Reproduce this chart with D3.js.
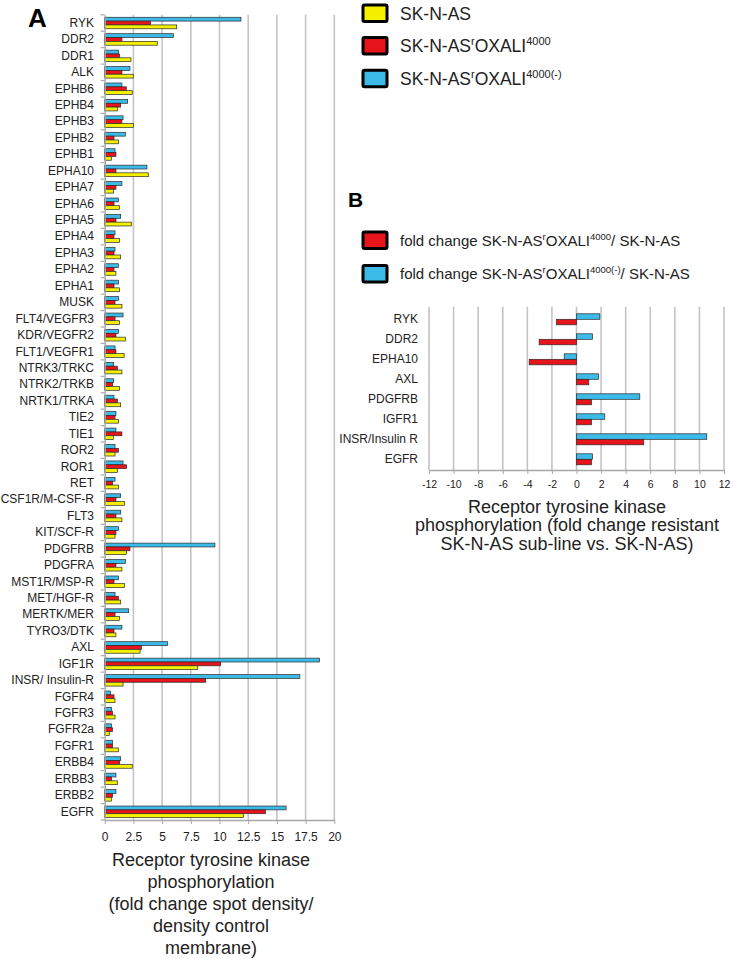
<!DOCTYPE html>
<html><head><meta charset="utf-8">
<script src="https://cdn.jsdelivr.net/npm/d3@7"></script>
<style>body{margin:0;background:#fff}svg{display:block;font-family:"Liberation Sans",Arial,sans-serif}</style>
</head><body><svg id="c" width="733" height="959"></svg>
<script>
// ---------- DATA ----------
const kinasesA = ["RYK","DDR2","DDR1","ALK","EPHB6","EPHB4","EPHB3","EPHB2","EPHB1","EPHA10","EPHA7","EPHA6","EPHA5","EPHA4","EPHA3","EPHA2","EPHA1","MUSK","FLT4/VEGFR3","KDR/VEGFR2","FLT1/VEGFR1","NTRK3/TRKC","NTRK2/TRKB","NRTK1/TRKA","TIE2","TIE1","ROR2","ROR1","RET","CSF1R/M-CSF-R","FLT3","KIT/SCF-R","PDGFRB","PDGFRA","MST1R/MSP-R","MET/HGF-R","MERTK/MER","TYRO3/DTK","AXL","IGF1R","INSR/ Insulin-R","FGFR4","FGFR3","FGFR2a","FGFR1","ERBB4","ERBB3","ERBB2","EGFR"];
const skNAS = [6.27,4.58,2.29,2.49,2.4,1.1,2.49,1.19,0.58,3.8,0.78,1.3,2.32,1.3,1.39,0.98,1.3,1.5,1.3,1.8,1.69,1.5,1.3,1.39,1.19,0.75,0.9,1.1,1.19,1.72,1.5,0.9,1.91,1.5,1.72,1.39,1.3,0.98,3.08,8.1,1.6,0.9,0.9,0.4,1.19,2.4,1.1,0.58,12.1];
const oxali4000 = [4.0,1.5,1.3,1.5,1.88,1.39,1.5,0.81,0.98,0.98,0.98,0.81,0.98,0.81,0.81,0.81,0.81,0.9,0.9,0.98,0.98,1.1,0.69,1.1,0.9,1.5,1.19,1.91,0.69,0.98,0.98,0.98,2.2,0.98,0.81,1.19,0.9,0.81,3.19,10.1,8.8,0.81,0.69,0.69,0.69,1.3,0.6,0.69,14.0];
const oxali4000minus = [11.87,5.98,1.19,2.2,1.5,2.0,1.6,1.8,0.9,3.68,1.5,1.19,1.39,0.9,0.9,1.19,1.19,1.19,1.6,1.19,0.9,0.78,0.78,0.81,0.98,0.98,0.9,1.6,0.9,1.39,1.39,1.19,9.6,1.8,1.19,0.9,2.09,1.5,5.49,18.7,17.0,0.49,0.6,0.58,0.69,1.39,0.98,0.98,15.8];
const ticksA = [0,2.5,5,7.5,10,12.5,15,17.5,20];

const kinasesB = ["RYK","DDR2","EPHA10","AXL","PDGFRB","IGFR1","INSR/Insulin R","EGFR"];
const foldOxali = [-1.63,-3.04,-3.85,1.0,1.22,1.22,5.47,1.22];
const foldOxaliMinus = [1.9,1.3,-1.0,1.79,5.15,2.3,10.6,1.3];
const ticksB = [-12,-10,-8,-6,-4,-2,0,2,4,6,8,10,12];

const COL = {yellow:"#f4f000", red:"#e8141b", cyan:"#3cbbe9"};
const GRID = "#c4c4c4", TXT = "#222";

const svg = d3.select("#c");

// ---------- PANEL A ----------
const xA = d3.scaleLinear().domain([0,20]).range([104.7,334.3]);
const yA = d3.scaleBand().domain(kinasesA).range([14.8,820]).paddingInner(0.3).paddingOuter(0.15);
const seriesA = [
  {key:"cyan", vals:oxali4000minus},
  {key:"red", vals:oxali4000},
  {key:"yellow", vals:skNAS}
];
const y1A = d3.scaleBand().domain(seriesA.map(s=>s.key)).range([0,yA.bandwidth()]);
const gA = svg.append("g");
gA.selectAll("line.grid").data(ticksA.slice(1)).join("line")
  .attr("x1",d=>xA(d)).attr("x2",d=>xA(d)).attr("y1",14.8).attr("y2",820)
  .attr("stroke",GRID).attr("stroke-width",1.6);

seriesA.forEach(s=>{
  gA.append("g").selectAll("rect").data(kinasesA).join("rect")
    .attr("x",xA(0)).attr("y",(d)=>yA(d)+y1A(s.key))
    .attr("width",(d,i)=>xA(s.vals[i])-xA(0)).attr("height",y1A.bandwidth())
    .attr("fill",COL[s.key]).attr("stroke","#2a2a2a").attr("stroke-width",0.7);
});

// y axis
const yAxA = gA.append("g").attr("transform",`translate(${xA(0)},0)`)
  .call(d3.axisLeft(yA).tickSize(0).tickPadding(10.7));
yAxA.select(".domain").attr("stroke","#a8a8a8").attr("stroke-width",1.4);
yAxA.selectAll("text").attr("font-size",12).attr("fill",TXT).attr("font-family",'"Liberation Sans",Arial,sans-serif');
const boundsA = kinasesA.map(k=>yA(k)-yA.step()*yA.paddingInner()/2).concat([820]);
gA.selectAll("line.yt").data(boundsA).join("line")
  .attr("x1",xA(0)-4).attr("x2",xA(0)).attr("y1",d=>d).attr("y2",d=>d)
  .attr("stroke","#a8a8a8").attr("stroke-width",1.2);
// x axis
const xAxA = gA.append("g").attr("transform","translate(0,820)")
  .call(d3.axisBottom(xA).tickValues(ticksA).tickSize(4).tickSizeOuter(0).tickPadding(8).tickFormat(d=>d));
xAxA.select(".domain").attr("stroke","#a8a8a8").attr("stroke-width",1.4);
xAxA.selectAll(".tick line").attr("stroke","#a8a8a8");
xAxA.selectAll("text").attr("font-size",12).attr("fill",TXT).attr("font-family",'"Liberation Sans",Arial,sans-serif');

const titleA = ["Receptor tyrosine kinase","phosphorylation","(fold change spot density/","density control","membrane)"];
svg.append("g").selectAll("text").data(titleA).join("text")
  .attr("x",211).attr("y",(d,i)=>865.5+i*22.2).attr("text-anchor","middle")
  .attr("font-size",18).attr("fill",TXT).text(d=>d);

svg.append("text").attr("x",28).attr("y",27).attr("font-size",26).attr("font-weight","bold").text("A");

// legend A
function supLabel(sel, parts, size, supSize){
  parts.forEach(p=>{
    const t = sel.append("tspan").text(p.t);
    if(p.sup){ t.attr("font-size",supSize).attr("dy",-size*0.38); }
    else if(p.after){ t.attr("dy",size*0.38); }
  });
}
const legA = [
  {c:"yellow", parts:[{t:"SK-N-AS"}]},
  {c:"red", parts:[{t:"SK-N-AS"},{t:"r",sup:true},{t:"OXALI",after:true},{t:"4000",sup:true}]},
  {c:"cyan", parts:[{t:"SK-N-AS"},{t:"r",sup:true},{t:"OXALI",after:true},{t:"4000(-)",sup:true}]}
];
legA.forEach((l,i)=>{
  const y = 5+i*32.6;
  svg.append("rect").attr("x",363).attr("y",y).attr("width",24).attr("height",16.5).attr("rx",1.5)
    .attr("fill",COL[l.c]).attr("stroke","#000").attr("stroke-width",3);
  const t = svg.append("text").attr("x",400).attr("y",y+14.5).attr("font-size",17.5).attr("fill",TXT);
  supLabel(t,l.parts,17.5,11);
});

// ---------- PANEL B ----------
svg.append("text").attr("x",348).attr("y",207).attr("font-size",21).attr("font-weight","bold").text("B");
const legB = [
  {c:"red", parts:[{t:"fold change SK-N-AS"},{t:"r",sup:true},{t:"OXALI",after:true},{t:"4000",sup:true},{t:"/ SK-N-AS",after:true}]},
  {c:"cyan", parts:[{t:"fold change SK-N-AS"},{t:"r",sup:true},{t:"OXALI",after:true},{t:"4000(-)",sup:true},{t:"/ SK-N-AS",after:true}]}
];
legB.forEach((l,i)=>{
  const y = 232+i*33.5;
  svg.append("rect").attr("x",363).attr("y",y).attr("width",24).attr("height",16.5).attr("rx",1.5)
    .attr("fill",COL[l.c]).attr("stroke","#000").attr("stroke-width",3);
  const t = svg.append("text").attr("x",400).attr("y",y+13.5).attr("font-size",15).attr("fill",TXT);
  supLabel(t,l.parts,15,9.5);
});

const xB = d3.scaleLinear().domain([-12,12]).range([429,724]);
const yB = d3.scaleBand().domain(kinasesB).range([309.3,469.3]).paddingInner(0.45).paddingOuter(0.225);
const seriesB = [{key:"cyan", vals:foldOxaliMinus},{key:"red", vals:foldOxali}];
const y1B = d3.scaleBand().domain(seriesB.map(s=>s.key)).range([0,yB.bandwidth()]);
const gB = svg.append("g");
gB.selectAll("line.grid").data(ticksB).join("line")
  .attr("x1",d=>xB(d)).attr("x2",d=>xB(d)).attr("y1",306.7).attr("y2",470)
  .attr("stroke",GRID).attr("stroke-width",1.6);
seriesB.forEach(s=>{
  gB.append("g").selectAll("rect").data(kinasesB).join("rect")
    .attr("x",(d,i)=>Math.min(xB(0),xB(s.vals[i]))).attr("y",d=>yB(d)+y1B(s.key))
    .attr("width",(d,i)=>Math.abs(xB(s.vals[i])-xB(0))).attr("height",y1B.bandwidth())
    .attr("fill",COL[s.key]).attr("stroke","#2a2a2a").attr("stroke-width",0.7);
});
const yAxB = gB.append("g").attr("transform",`translate(${xB(-12)},0)`)
  .call(d3.axisLeft(yB).tickSize(0).tickPadding(11));
yAxB.select(".domain").remove();
yAxB.selectAll("text").attr("font-size",12).attr("fill",TXT).attr("font-family",'"Liberation Sans",Arial,sans-serif');
const xAxB = gB.append("g").attr("transform","translate(0,470)")
  .call(d3.axisBottom(xB).tickValues(ticksB).tickSize(4).tickSizeOuter(0).tickPadding(7).tickFormat(d=>d));
xAxB.select(".domain").attr("stroke","#a8a8a8").attr("stroke-width",1.4);
xAxB.selectAll(".tick line").attr("stroke","#a8a8a8");
xAxB.selectAll("text").attr("font-size",10.5).attr("fill",TXT).attr("font-family",'"Liberation Sans",Arial,sans-serif');

const titleB = ["Receptor tyrosine kinase","phosphorylation (fold change resistant","SK-N-AS sub-line vs. SK-N-AS)"];
svg.append("g").selectAll("text").data(titleB).join("text")
  .attr("x",567).attr("y",(d,i)=>513+i*18.4).attr("text-anchor","middle")
  .attr("font-size",18).attr("fill",TXT).text(d=>d);
</script>
</body></html>
